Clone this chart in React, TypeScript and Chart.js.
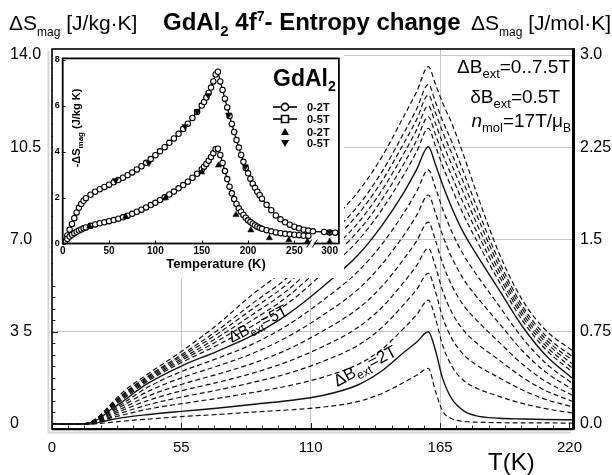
import React, { useEffect, useRef } from "react";
import { Chart, registerables } from "chart.js";

Chart.register(...registerables);

const FONT = '"Liberation Sans", Arial, Helvetica, sans-serif';

// ---------- main chart data (ΔS_mag in J/kg·K vs T in K) ----------
const tempK = [0, 12, 16, 20, 25, 30, 40, 55, 70, 85, 100, 115, 130, 140, 150, 155, 160, 163, 166, 170, 175, 180, 190, 200, 210, 221];

const c01 = [0, 0, 0, 0.02, 0.06, 0.11, 0.18, 0.28, 0.36, 0.45, 0.53, 0.64, 0.85, 1.15, 1.6, 1.85, 2.11, 1.25, 0.5, 0.2, 0.1, 0.07, 0.05, 0.04, 0.04, 0.03];
const c02 = [0, 0, 0, 0.06, 0.16, 0.24, 0.35, 0.48, 0.6, 0.74, 0.88, 1.08, 1.48, 2.0, 2.75, 3.1, 3.5, 2.8, 1.75, 0.95, 0.5, 0.32, 0.22, 0.19, 0.17, 0.16];
const c03 = [0, 0, 0.01, 0.08, 0.23, 0.34, 0.55, 0.77, 0.97, 1.19, 1.44, 1.77, 2.26, 2.82, 3.67, 4.14, 4.7, 4.01, 3.01, 2.19, 1.65, 1.38, 1.05, 0.78, 0.58, 0.42];
const c04 = [0, 0, 0.01, 0.1, 0.28, 0.43, 0.71, 1.02, 1.28, 1.57, 1.91, 2.37, 2.98, 3.64, 4.58, 5.1, 5.72, 5.03, 4.07, 3.24, 2.63, 2.27, 1.76, 1.29, 0.93, 0.66];
const c05 = [0, 0, 0.02, 0.12, 0.34, 0.52, 0.87, 1.26, 1.57, 1.92, 2.36, 2.93, 3.66, 4.4, 5.43, 6.01, 6.67, 5.99, 5.07, 4.23, 3.55, 3.11, 2.43, 1.77, 1.26, 0.87];
const c06 = [0, 0, 0.02, 0.14, 0.39, 0.6, 1.03, 1.5, 1.88, 2.29, 2.82, 3.52, 4.37, 5.2, 6.31, 6.94, 7.66, 6.98, 6.11, 5.25, 4.5, 3.99, 3.11, 2.27, 1.61, 1.1];
const c07 = [0, 0, 0.03, 0.16, 0.45, 0.69, 1.2, 1.75, 2.19, 2.67, 3.3, 4.12, 5.1, 6.03, 7.22, 7.91, 8.69, 8.01, 7.18, 6.31, 5.49, 4.89, 3.83, 2.78, 1.96, 1.33];
const c08 = [0, 0, 0.04, 0.18, 0.5, 0.77, 1.36, 1.99, 2.48, 3.02, 3.74, 4.68, 5.78, 6.79, 8.07, 8.82, 9.64, 8.97, 8.18, 7.29, 6.41, 5.73, 4.49, 3.26, 2.3, 1.55];
const c09 = [0, 0, 0.04, 0.2, 0.55, 0.85, 1.5, 2.2, 2.75, 3.35, 4.15, 5.2, 6.4, 7.5, 8.85, 9.65, 10.52, 9.85, 9.1, 8.2, 7.25, 6.5, 5.1, 3.7, 2.6, 1.75];
const c10 = [0, 0, 0.05, 0.22, 0.6, 0.93, 1.58, 2.33, 2.98, 3.71, 4.56, 5.7, 6.95, 8.1, 9.52, 10.33, 11.22, 10.55, 9.81, 8.94, 7.93, 7.05, 5.42, 3.93, 2.82, 1.99];
const c11 = [0, 0, 0.05, 0.24, 0.63, 0.98, 1.63, 2.41, 3.13, 3.93, 4.83, 6.01, 7.3, 8.48, 9.94, 10.76, 11.66, 10.99, 10.26, 9.4, 8.36, 7.4, 5.63, 4.08, 2.96, 2.14];
const c12 = [0, 0, 0.05, 0.25, 0.65, 1.03, 1.68, 2.48, 3.26, 4.14, 5.07, 6.3, 7.62, 8.83, 10.33, 11.16, 12.07, 11.41, 10.68, 9.83, 8.76, 7.72, 5.81, 4.21, 3.09, 2.29];
const c13 = [0, 0, 0.05, 0.27, 0.68, 1.08, 1.73, 2.56, 3.4, 4.35, 5.31, 6.59, 7.95, 9.18, 10.72, 11.55, 12.48, 11.82, 11.1, 10.26, 9.15, 8.05, 6.0, 4.35, 3.21, 2.43];
const c14 = [0, 0, 0.06, 0.28, 0.71, 1.12, 1.77, 2.63, 3.53, 4.56, 5.55, 6.88, 8.27, 9.53, 11.11, 11.95, 12.89, 12.23, 11.52, 10.7, 9.55, 8.37, 6.19, 4.48, 3.34, 2.57];
const c15 = [0, 0, 0.06, 0.3, 0.75, 1.2, 1.85, 2.75, 3.75, 4.9, 5.95, 7.35, 8.8, 10.1, 11.75, 12.6, 13.56, 12.9, 12.2, 11.4, 10.2, 8.9, 6.5, 4.7, 3.55, 2.8];

const curves = [c01, c02, c03, c04, c05, c06, c07, c08, c09, c10, c11, c12, c13, c14, c15];
const solidCurves = [c02, c09];

const xTicks = [0, 55, 110, 165, 220];
const yLeftTicks = [0, 3.5, 7, 10.5, 14];
const yLeftLabels = ["0", "3 5", "7.0", "10.5", "14.0"];
const yRightTicks = [0, 0.75, 1.5, 2.25, 3.0];
const yRightLabels = ["0.0", "0.75", "1.5", "2.25", "3.0"];

// ---------- inset data (-ΔS_mag in J/kg K vs Temperature) ----------
const inset0to2T: [number, number][] = [
  [0, 0], [2.5, 0.08], [5, 0.2], [7.5, 0.3], [10, 0.38], [12.5, 0.45], [15, 0.51], [17.5, 0.56], [20, 0.61], [22.5, 0.66], [25, 0.7],
  [30, 0.77], [35, 0.83], [40, 0.88], [45, 0.92], [50, 0.97], [55, 1.02], [60, 1.08], [65, 1.14], [70, 1.21], [75, 1.29], [80, 1.38],
  [85, 1.47], [90, 1.57], [95, 1.67], [100, 1.77], [105, 1.89], [110, 2.01], [115, 2.13], [120, 2.26], [125, 2.4], [130, 2.54],
  [135, 2.69], [140, 2.86], [145, 3.03], [150, 3.22], [152.5, 3.34], [155, 3.46], [157.5, 3.6], [160, 3.76], [162.5, 3.93], [165, 4.1],
  [167.5, 4.12], [170, 3.85], [172.5, 3.5], [175, 3.15], [177.5, 2.8], [180, 2.47], [182.5, 2.18], [185, 1.93], [187.5, 1.72],
  [190, 1.53], [192.5, 1.38], [195, 1.24], [197.5, 1.12], [200, 1.01], [202.5, 0.93], [205, 0.86], [207.5, 0.79], [210, 0.73],
  [212.5, 0.68], [215, 0.64], [220, 0.58], [225, 0.53], [230, 0.48], [235, 0.45], [240, 0.42], [245, 0.4], [250, 0.38], [255, 0.36],
  [260, 0.34], [265, 0.33],
];
const inset0to5T: [number, number][] = [
  [0, 0], [2.5, 0.12], [5, 0.35], [7.5, 0.6], [10, 0.85], [12.5, 1.1], [15, 1.35], [17.5, 1.55], [20, 1.72], [22.5, 1.86], [25, 1.97],
  [30, 2.12], [35, 2.25], [40, 2.36], [45, 2.46], [50, 2.56], [55, 2.66], [60, 2.76], [65, 2.86], [70, 2.97], [75, 3.09], [80, 3.22],
  [85, 3.36], [90, 3.51], [95, 3.67], [100, 3.84], [105, 4.01], [110, 4.19], [115, 4.38], [120, 4.57], [125, 4.77], [130, 4.98],
  [135, 5.21], [140, 5.46], [145, 5.72], [150, 6.0], [152.5, 6.15], [155, 6.35], [157.5, 6.55], [160, 6.78], [162.5, 7.05], [165, 7.35],
  [167.5, 7.47], [170, 7.05], [172.5, 6.68], [175, 6.3], [177.5, 5.92], [180, 5.55], [182.5, 5.2], [185, 4.85], [187.5, 4.5],
  [190, 4.17], [192.5, 3.85], [195, 3.55], [197.5, 3.28], [200, 3.05], [202.5, 2.82], [205, 2.6], [207.5, 2.42], [210, 2.25],
  [212.5, 2.1], [215, 1.95], [220, 1.68], [225, 1.45], [230, 1.22], [235, 1.05], [240, 0.92], [245, 0.82], [250, 0.73], [255, 0.66],
  [260, 0.6], [265, 0.56], [270, 0.53], [290, 0.5], [300, 0.48], [310, 0.47],
];
const insetTri2T: [number, number][] = [
  [29, 0.74], [68, 1.17], [111, 1.98], [150, 3.1], [168, 3.4], [187, 1.25], [203, 0.58], [223, 0.24], [244, 0.15], [264, 0.09], [300, 0.08],
];
const insetTri5T: [number, number][] = [
  [57, 2.75], [93, 3.5], [132, 5.1], [145, 5.75], [157, 6.45], [179, 5.6], [197, 3.35], [300, 0.5],
];
const insetXTicks = [0, 50, 100, 150, 200, 250, 300];
const insetYTicks = [0, 2, 4, 6, 8];
const insetLegend = ["0-2T", "0-5T", "0-2T", "0-5T"];
const insetBreakAt = 270;

// compressed axis beyond the "//" break
const breakAxis = (t: number) => (t <= insetBreakAt ? t : insetBreakAt + (t - insetBreakAt) * 0.6);

type Part = { t: string; font: string; dy?: number };
function drawParts(ctx: CanvasRenderingContext2D, parts: Part[], x: number, y: number, align: "left" | "center" = "left") {
  ctx.textAlign = "left";
  ctx.textBaseline = "alphabetic";
  let w = 0;
  parts.forEach((p) => {
    ctx.font = p.font;
    w += ctx.measureText(p.t).width;
  });
  let cx = align === "center" ? x - w / 2 : x;
  parts.forEach((p) => {
    ctx.font = p.font;
    ctx.fillText(p.t, cx, y + (p.dy || 0));
    cx += ctx.measureText(p.t).width;
  });
}

const mainDecor = {
  id: "mainDecor",
  afterDatasetsDraw(chart: any) {
    const { ctx, chartArea: a, scales } = chart;
    const xs = scales.x;
    const ys = scales.y;
    ctx.save();
    // soft shadow of the frame
    ctx.strokeStyle = "#d6d6d6";
    ctx.lineWidth = 2;
    ctx.beginPath();
    ctx.moveTo(a.left - 3.5, a.top + 2);
    ctx.lineTo(a.left - 3.5, a.bottom + 3.5);
    ctx.lineTo(a.right - 2, a.bottom + 3.5);
    ctx.stroke();
    // inward ticks
    ctx.strokeStyle = "#222";
    ctx.lineWidth = 1;
    const minor = 8;
    const xMaj = xTicks[1] - xTicks[0];
    const xStep = xMaj / minor;
    for (let v = xTicks[0]; v <= xTicks[xTicks.length - 1] + 1e-6; v += xStep) {
      const px = Math.round(xs.getPixelForValue(v)) + 0.5;
      const major = Math.abs(v / xMaj - Math.round(v / xMaj)) < 1e-6;
      const len = major ? 6 : 3.5;
      ctx.beginPath();
      ctx.moveTo(px, a.bottom);
      ctx.lineTo(px, a.bottom - len);
      ctx.stroke();
    }
    const yMaj = yLeftTicks[1] - yLeftTicks[0];
    const yStep = yMaj / minor;
    for (let v = yLeftTicks[0]; v <= yLeftTicks[yLeftTicks.length - 1] + 1e-6; v += yStep) {
      const py = Math.round(ys.getPixelForValue(v)) + 0.5;
      const major = Math.abs(v / yMaj - Math.round(v / yMaj)) < 1e-6;
      const len = major ? 6 : 3.5;
      ctx.beginPath();
      ctx.moveTo(a.left, py);
      ctx.lineTo(a.left + len, py);
      ctx.stroke();
    }
    // frame
    ctx.strokeStyle = "#000";
    ctx.lineWidth = 1.6;
    ctx.strokeRect(a.left, a.top, a.right - a.left, a.bottom - a.top);
    ctx.lineWidth = 3;
    ctx.beginPath();
    ctx.moveTo(a.right + 0.5, a.top - 0.8);
    ctx.lineTo(a.right + 0.5, a.bottom + 0.8);
    ctx.stroke();
    ctx.lineWidth = 2;
    ctx.beginPath();
    ctx.moveTo(a.left, a.bottom + 0.3);
    ctx.lineTo(a.right, a.bottom + 0.3);
    ctx.stroke();
    ctx.restore();
  },
};

function drawMarker(ctx: CanvasRenderingContext2D, kind: string, x: number, y: number) {
  ctx.beginPath();
  if (kind === "circle") {
    ctx.arc(x, y, 3.6, 0, Math.PI * 2);
    ctx.fillStyle = "#fff";
    ctx.fill();
    ctx.lineWidth = 1.6;
    ctx.stroke();
  } else if (kind === "square") {
    ctx.rect(x - 3.5, y - 3.5, 7, 7);
    ctx.fillStyle = "#fff";
    ctx.fill();
    ctx.lineWidth = 1.6;
    ctx.stroke();
  } else if (kind === "up") {
    ctx.moveTo(x, y - 4);
    ctx.lineTo(x + 4, y + 3);
    ctx.lineTo(x - 4, y + 3);
    ctx.closePath();
    ctx.fillStyle = "#000";
    ctx.fill();
  } else {
    ctx.moveTo(x, y + 4);
    ctx.lineTo(x + 4, y - 3);
    ctx.lineTo(x - 4, y - 3);
    ctx.closePath();
    ctx.fillStyle = "#000";
    ctx.fill();
  }
}

const insetDecor = {
  id: "insetDecor",
  afterDraw(chart: any) {
    const { ctx, chartArea: a, scales } = chart;
    const xs = scales.x;
    const ys = scales.y;
    ctx.save();
    ctx.strokeStyle = "#000";
    ctx.fillStyle = "#000";
    // ticks
    ctx.lineWidth = 1;
    insetXTicks.forEach((t) => {
      const px = Math.round(xs.getPixelForValue(breakAxis(t))) + 0.5;
      ctx.beginPath();
      ctx.moveTo(px, a.bottom);
      ctx.lineTo(px, a.bottom - 3);
      ctx.stroke();
    });
    insetYTicks.forEach((v) => {
      const py = Math.round(ys.getPixelForValue(v)) + 0.5;
      ctx.beginPath();
      ctx.moveTo(a.left, py);
      ctx.lineTo(a.left + 3, py);
      ctx.stroke();
    });
    // frame
    ctx.lineWidth = 1.8;
    ctx.strokeRect(a.left, a.top, a.right - a.left, a.bottom - a.top);
    // axis break marks
    const b1 = xs.getPixelForValue(insetBreakAt - 4);
    const b2 = xs.getPixelForValue(insetBreakAt + 2);
    ctx.fillStyle = "#fff";
    ctx.fillRect(b1 + 1, a.bottom - 2, b2 - b1 - 2, 4);
    ctx.lineWidth = 1;
    [b1, b2].forEach((bx) => {
      ctx.beginPath();
      ctx.moveTo(bx - 2.5, a.bottom + 4);
      ctx.lineTo(bx + 2.5, a.bottom - 4);
      ctx.stroke();
    });
    // legend
    ctx.fillStyle = "#000";
    drawParts(ctx, [
      { t: "GdAl", font: `bold 23px ${FONT}` },
      { t: "2", font: `bold 14px ${FONT}`, dy: 5 },
    ], 220, 36);
    const kinds = ["circle", "square", "up", "down"];
    const rows = [57, 69, 82, 93];
    insetLegend.forEach((lab, i) => {
      const y = rows[i];
      ctx.strokeStyle = "#000";
      if (i < 2) {
        ctx.lineWidth = 1.6;
        ctx.beginPath();
        ctx.moveTo(220, y);
        ctx.lineTo(244, y);
        ctx.stroke();
      }
      drawMarker(ctx, kinds[i], 232, y);
      ctx.fillStyle = "#000";
      ctx.font = `bold 11px ${FONT}`;
      ctx.textAlign = "left";
      ctx.textBaseline = "middle";
      ctx.fillText(lab, 254, y + 0.5);
    });
    // axis titles
    ctx.fillStyle = "#000";
    drawParts(ctx, [{ t: "Temperature (K)", font: `bold 13px ${FONT}` }], 163, 218, "center");
    ctx.translate(27, 78);
    ctx.rotate(-Math.PI / 2);
    drawParts(ctx, [
      { t: "-ΔS", font: `bold 11px ${FONT}` },
      { t: "mag", font: `bold 8px ${FONT}`, dy: 3 },
      { t: " (J/kg K)", font: `bold 11px ${FONT}` },
    ], 0, 0, "center");
    ctx.restore();
  },
};

function mainConfig(): any {
  const datasets = curves.map((c) => {
    const solid = solidCurves.includes(c);
    return {
      data: tempK.map((t, k) => ({ x: t, y: c[k] })),
      borderColor: "#111",
      borderWidth: solid ? 1.4 : 1.2,
      borderDash: solid ? [] : [5, 3],
      pointRadius: 0,
      fill: false,
      cubicInterpolationMode: "monotone",
    };
  });
  return {
    type: "line",
    data: { datasets },
    plugins: [mainDecor],
    options: {
      animation: false,
      responsive: false,
      events: [],
      layout: { padding: { left: 10, top: 49, right: 0, bottom: 0 } },
      plugins: { legend: { display: false }, tooltip: { enabled: false }, title: { display: false } },
      scales: {
        x: {
          type: "linear",
          min: 0,
          max: 221.5,
          afterBuildTicks: (s: any) => {
            s.ticks = xTicks.map((v) => ({ value: v }));
          },
          afterFit: (s: any) => {
            s.height = 46;
          },
          ticks: { color: "#000", font: { family: FONT, size: 15 }, padding: 10, maxRotation: 0, autoSkip: false },
          grid: {
            drawTicks: false,
            lineWidth: 1,
            color: (c: any) => (c.tick && (c.tick.value === 0 || c.tick.value === 220) ? "rgba(0,0,0,0)" : "#c6c6c6"),
          },
          border: { display: false },
        },
        y: {
          type: "linear",
          position: "left",
          min: -0.19,
          max: 14.23,
          afterBuildTicks: (s: any) => {
            s.ticks = yLeftTicks.map((v) => ({ value: v }));
          },
          afterFit: (s: any) => {
            s.width = 42;
          },
          ticks: {
            color: "#000",
            font: { family: FONT, size: 16 },
            crossAlign: "far",
            autoSkip: false,
            callback: (v: any) => yLeftLabels[yLeftTicks.indexOf(Number(v))] ?? "",
          },
          grid: {
            drawTicks: false,
            lineWidth: 1,
            color: (c: any) => (c.tick && c.tick.value === 0 ? "rgba(0,0,0,0)" : "#c6c6c6"),
          },
          border: { display: false },
        },
        y2: {
          type: "linear",
          position: "right",
          min: (-0.19 * 3) / 14,
          max: (14.23 * 3) / 14,
          afterBuildTicks: (s: any) => {
            s.ticks = yRightTicks.map((v) => ({ value: v }));
          },
          afterFit: (s: any) => {
            s.width = 39;
          },
          ticks: {
            color: "#000",
            font: { family: FONT, size: 16 },
            padding: 7,
            autoSkip: false,
            callback: (v: any) => yRightLabels[yRightTicks.indexOf(Number(v))] ?? "",
          },
          grid: { display: false, drawTicks: false },
          border: { display: false },
        },
      },
    },
  };
}

function insetConfig(): any {
  const pts = (arr: [number, number][]) => arr.map(([t, s]) => ({ x: breakAxis(t), y: s }));
  return {
    type: "line",
    data: {
      datasets: [
        {
          data: pts(insetTri2T),
          showLine: false,
          pointStyle: "triangle",
          pointRadius: 3.6,
          pointBackgroundColor: "#000",
          pointBorderColor: "#000",
          pointBorderWidth: 0.5,
        },
        {
          data: pts(insetTri5T),
          showLine: false,
          pointStyle: "triangle",
          pointRotation: 180,
          pointRadius: 3.6,
          pointBackgroundColor: "#000",
          pointBorderColor: "#000",
          pointBorderWidth: 0.5,
        },
        {
          data: pts(inset0to2T),
          borderColor: "#000",
          borderWidth: 1.3,
          pointStyle: "circle",
          pointRadius: 2.7,
          pointBackgroundColor: "#fff",
          pointBorderColor: "#000",
          pointBorderWidth: 1.1,
          tension: 0,
        },
        {
          data: pts(inset0to5T),
          borderColor: "#000",
          borderWidth: 1.3,
          pointStyle: "circle",
          pointRadius: 2.7,
          pointBackgroundColor: "#fff",
          pointBorderColor: "#000",
          pointBorderWidth: 1.1,
          tension: 0,
        },
      ],
    },
    plugins: [insetDecor],
    options: {
      animation: false,
      responsive: false,
      events: [],
      layout: { padding: { left: 0, top: 5, right: 2, bottom: 0 } },
      plugins: { legend: { display: false }, tooltip: { enabled: false } },
      scales: {
        x: {
          type: "linear",
          min: 0,
          max: 298,
          afterBuildTicks: (s: any) => {
            s.ticks = insetXTicks.map((t) => ({ value: breakAxis(t) }));
          },
          afterFit: (s: any) => {
            s.height = 34.5;
          },
          ticks: {
            color: "#000",
            font: { family: FONT, size: 10, weight: "bold" },
            padding: 2,
            maxRotation: 0,
            autoSkip: false,
            callback: (v: any) => {
              const i = insetXTicks.findIndex((t) => breakAxis(t) === Number(v));
              return i >= 0 ? String(insetXTicks[i]) : "";
            },
          },
          grid: { display: false, drawTicks: false },
          border: { display: false },
        },
        y: {
          type: "linear",
          min: 0,
          max: 8.05,
          afterBuildTicks: (s: any) => {
            s.ticks = insetYTicks.map((v) => ({ value: v }));
          },
          afterFit: (s: any) => {
            s.width = 9.7;
          },
          ticks: { color: "#000", font: { family: FONT, size: 9, weight: "bold" }, padding: 3, autoSkip: false },
          grid: { display: false, drawTicks: false },
          border: { display: false },
        },
      },
    },
  };
}

function Txt(props: { x: number; y: number; size: number; bold?: boolean; align?: "left" | "right"; children: any }) {
  const { x, y, size, bold, align = "left", children } = props;
  const style: any = {
    position: "absolute",
    top: y - 0.8465 * size,
    fontSize: size,
    lineHeight: 1,
    fontWeight: bold ? "bold" : "normal",
    whiteSpace: "nowrap",
  };
  if (align === "right") style.right = 612 - x;
  else style.left = x;
  return <div style={style}>{children}</div>;
}

function Sub(props: { size: number; dy: number; children: any }) {
  return <span style={{ fontSize: props.size, position: "relative", top: props.dy }}>{props.children}</span>;
}

function Rot(props: { cx: number; cy: number; deg: number; size: number; children: any }) {
  return (
    <div
      style={{
        position: "absolute",
        left: props.cx,
        top: props.cy,
        transform: `translate(-50%, -50%) rotate(${props.deg}deg)`,
        fontSize: props.size,
        lineHeight: 1,
        whiteSpace: "nowrap",
      }}
    >
      {props.children}
    </div>
  );
}

export default function App() {
  const mainRef = useRef<HTMLCanvasElement>(null);
  const insetRef = useRef<HTMLCanvasElement>(null);

  useEffect(() => {
    const main = new Chart(mainRef.current as HTMLCanvasElement, mainConfig());
    const inset = new Chart(insetRef.current as HTMLCanvasElement, insetConfig());
    return () => {
      main.destroy();
      inset.destroy();
    };
  }, []);

  return (
    <div
      style={{
        position: "absolute",
        left: 0,
        top: 0,
        width: 612,
        height: 475,
        background: "#fff",
        fontFamily: FONT,
        color: "#000",
        overflow: "hidden",
      }}
    >
      <canvas ref={mainRef} width={612} height={475} style={{ position: "absolute", left: 0, top: 0 }} />
      <canvas ref={insetRef} width={291} height={228} style={{ position: "absolute", left: 53, top: 50, background: "#fff" }} />

      <Txt x={9} y={30} size={21}>
        ΔS<Sub size={12} dy={6}>mag</Sub> [J/kg·K]
      </Txt>
      <Txt x={163} y={30} size={24} bold>
        GdAl<Sub size={15} dy={6}>2</Sub> 4f<Sub size={14} dy={-9}>7</Sub>- Entropy change
      </Txt>
      <Txt x={611} y={30} size={21} align="right">
        ΔS<Sub size={12} dy={6}>mag</Sub> [J/mol·K]
      </Txt>

      <Txt x={570} y={73} size={19} align="right">
        ΔB<Sub size={13} dy={5}>ext</Sub>=0..7.5T
      </Txt>
      <Txt x={560} y={103} size={19} align="right">
        δB<Sub size={13} dy={5}>ext</Sub>=0.5T
      </Txt>
      <Txt x={571} y={127} size={19} align="right">
        <i>n</i>
        <Sub size={13} dy={5}>mol</Sub>=17T/μ<Sub size={12} dy={5}>B</Sub>
      </Txt>

      <Rot cx={258} cy={324} deg={-27} size={16}>
        ΔB<Sub size={11} dy={4}>ext</Sub>=5T
      </Rot>
      <Rot cx={365} cy={366} deg={-28} size={17}>
        ΔB<Sub size={12} dy={4}>ext</Sub>=2T
      </Rot>

      <Txt x={488} y={470} size={24}>
        T(K)
      </Txt>
    </div>
  );
}
